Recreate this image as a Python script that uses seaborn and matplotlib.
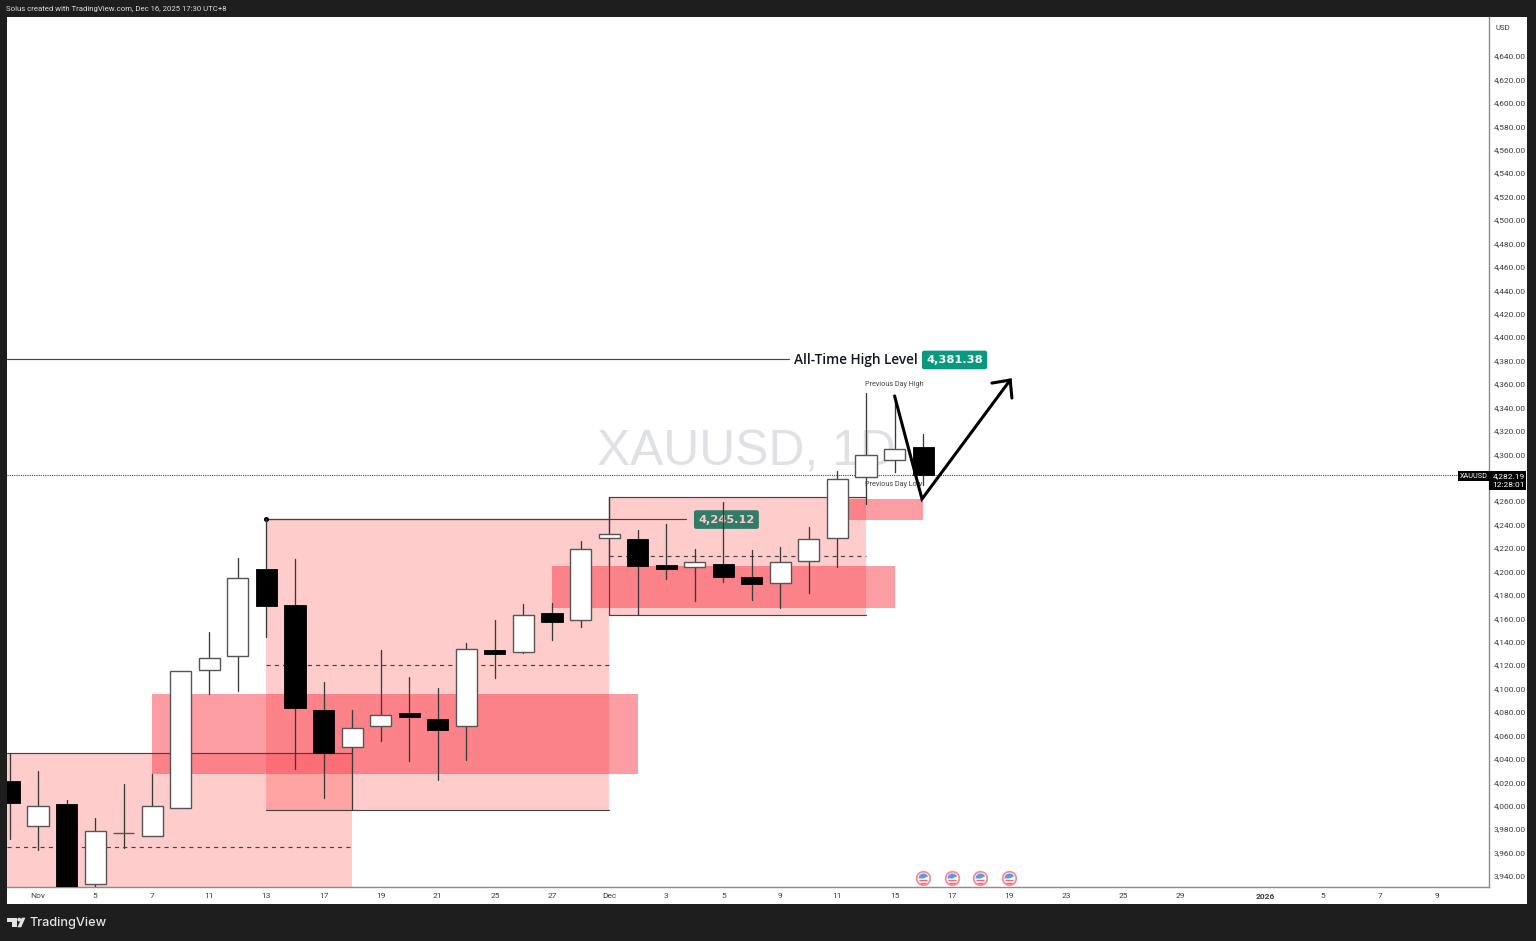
import numpy as np
import pandas as pd
import matplotlib.pyplot as plt
from matplotlib.patches import Rectangle, Polygon, Circle
from matplotlib.path import Path
import seaborn as sns

# daily candles, XAUUSD 1D
opens = [4021.1, 3982.7, 4001.5, 3933.2, 3976.3, 3974.1, 3998.0, 4115.8, 4127.8, 4202.1, 4171.3,
         4081.7, 4050.1, 4068.0, 4079.1, 4074.0, 4068.0, 4132.9, 4131.2, 4164.5, 4158.5, 4228.5,
         4227.7, 4205.5, 4203.8, 4206.3, 4195.2, 4190.1, 4208.9, 4228.5, 4280.6, 4295.1, 4306.2]
closes = [4002.3, 3999.7, 3926.3, 3978.4, 3976.6, 3999.7, 4115.0, 4126.1, 4194.4, 4170.5, 4083.4,
          4045.0, 4066.3, 4077.4, 4075.7, 4064.6, 4133.8, 4129.5, 4162.8, 4156.8, 4219.1, 4231.9,
          4204.6, 4202.1, 4208.0, 4195.2, 4189.3, 4208.0, 4227.7, 4278.9, 4299.4, 4304.5, 4282.19]
highs = [4045.0, 4029.6, 4004.9, 3989.5, 4018.5, 4027.1, 4115.0, 4148.3, 4211.5, 4244.8, 4210.6,
         4105.6, 4081.7, 4132.9, 4109.9, 4100.5, 4138.9, 4158.5, 4172.2, 4173.0, 4226.0, 4263.5,
         4235.4, 4240.5, 4219.1, 4259.3, 4218.3, 4220.8, 4237.9, 4285.7, 4352.3, 4349.8, 4317.3]
lows = [3971.6, 3962.2, 3923.8, 3929.0, 3963.9, 3974.1, 3998.0, 4095.4, 4097.9, 4144.0, 4031.3,
        4006.6, 3997.2, 4055.2, 4038.2, 4021.9, 4039.0, 4109.0, 4130.4, 4141.5, 4152.6, 4204.6,
        4162.8, 4193.5, 4174.8, 4191.0, 4175.6, 4168.8, 4181.6, 4203.8, 4257.6, 4284.9, 4273.8]

# premium zones: start, end, top, bottom, midline
light_start = [-0.09, 9, 21]
light_end = [12, 21, 30]
light_top = [4045.0, 4244.8, 4263.5]
light_bottom = [3925.0, 3996.3, 4162.8]
light_mid = [3964.8, 4120.1, 4213.2]

# order blocks
dark_start = [5, 19, 29.37]
dark_end = [22, 31, 32]
dark_top = [4095.4, 4204.6, 4261.8]
dark_bottom = [4027.1, 4168.8, 4243.9]

# projected path
path_x = [31, 31.96, 35.05]
path_y = [4349.8, 4261.8, 4363.4]
head_x = [34.41, 35.05, 35.11]
head_y = [4360.8, 4363.4, 4348.0]

ath_level = 4381.38
last_price = 4282.19
swing_level = 4245.12
event_days = [32, 33, 34, 35]

price_ticks = np.arange(3940, 4641, 20)
day_ticks = [1, 3, 5, 7, 9, 11, 13, 15, 17, 19, 21, 23, 25, 27, 29, 31, 33, 35, 37, 39, 41, 44, 46, 48, 50]
day_labels = ['Nov', '5', '7', '11', '13', '17', '19', '21', '25', '27', 'Dec', '3', '5', '9', '11', '15',
              '17', '19', '23', '25', '29', '2026', '5', '7', '9']

W, H = 1536, 941
DARK = '#1e1e1e'
LINE = '#444444'
TXT = '#3d3d3d'

sns.set_style('white')
plt.rcParams['font.family'] = ['Roboto', 'DejaVu Sans']

fig = plt.figure(figsize=(W / 100, H / 100), dpi=100, facecolor=DARK)


def px_axes(zorder):
    a = fig.add_axes([0, 0, 1, 1], zorder=zorder)
    a.set_xlim(0, W)
    a.set_ylim(H, 0)
    a.axis('off')
    a.patch.set_alpha(0)
    return a


back = px_axes(0)
back.add_patch(Rectangle((7, 17), 1520, 887, fc='white', ec='none'))

ax = fig.add_axes([7 / W, 1 - 887 / H, 1482 / W, 870 / H], zorder=1)
ax.patch.set_alpha(0)
ax.set_xlim(-0.0876, 51.82)
ax.set_ylim(3930.6, 4673.3)

ax.text((746.5 - 7) / 1482, (887 - 452.5) / 870, 'XAUUSD, 1D', transform=ax.transAxes, ha='center', va='center',
        fontsize=35.8, color='#dfe1e5', family='Liberation Sans', zorder=0)

# zones
for s, e, t, b, m in zip(light_start, light_end, light_top, light_bottom, light_mid):
    ax.add_patch(Rectangle((s, b), e - s, t - b, fc='#ff0000', alpha=0.2, ec='none', zorder=1))
    ax.plot([s, e], [m, m], color=LINE, lw=0.85, ls=(0, (3.5, 3.5)), zorder=2)
    ax.plot([s, e], [t, t], color=LINE, lw=0.85, zorder=2)
    if b > 3930.6:
        ax.plot([s, e], [b, b], color=LINE, lw=0.85, zorder=2)
ax.plot([light_start[2], light_start[2]], [light_bottom[2], light_top[2]], color=LINE, lw=0.85, zorder=2)
for s, e, t, b in zip(dark_start, dark_end, dark_top, dark_bottom):
    ax.add_patch(Rectangle((s, b), e - s, t - b, fc='#fb3a48', alpha=0.5, ec='none', zorder=1.5))

# levels
ax.plot([light_start[0], 27.3], [ath_level, ath_level], color=LINE, lw=0.85, zorder=2)
ax.plot([9, 23.7], [swing_level, swing_level], color=LINE, lw=0.85, zorder=2)
ax.plot([9], [swing_level], 'o', ms=2.6, color='black', zorder=2)
ax.plot([-0.09, 50.75], [last_price, last_price], color='#444444', lw=0.8, ls=(0, (1, 1)), zorder=2.2)

# badges
ax.text(25.11, swing_level, f'{swing_level:,.2f}', ha='center', va='center_baseline', fontsize=8.2, fontweight='bold',
        color='#f8cccc', family='DejaVu Sans', zorder=2.5,
        bbox=dict(boxstyle='round,pad=0.38,rounding_size=0.2', fc='#317c68', ec='none'))
ax.text(33.1, ath_level, f'{ath_level:,.2f}', ha='center', va='center_baseline', fontsize=8.2, fontweight='bold',
        color='white', family='DejaVu Sans', zorder=2.5,
        bbox=dict(boxstyle='round,pad=0.38,rounding_size=0.2', fc='#089981', ec='none'))
ax.text(27.48, ath_level, 'All-Time High Level', ha='left', va='center_baseline', fontsize=9.85, color='#131722',
        fontweight='semibold', family='Open Sans', zorder=2.5)
ax.text(29.97, 4360, 'Previous Day High', ha='left', va='center', fontsize=5.2, color='#444444', zorder=5)
ax.text(29.97, 4274, 'Previous Day Low', ha='left', va='center', fontsize=5.2, color='#444444', zorder=5)

# wicks through seaborn, bodies as bars on the same axes
days = np.arange(len(opens))
wicks = pd.DataFrame({
    'day': np.repeat(days, 2),
    'price': np.column_stack([lows, highs]).ravel(),
})
sns.lineplot(data=wicks, x='day', y='price', units='day', estimator=None, color='#3a3a3a', lw=0.95,
             legend=False, zorder=3, ax=ax)

o = np.array(opens)
c = np.array(closes)
up = c >= o
ax.bar(days[up], np.abs(c - o)[up], bottom=np.minimum(o, c)[up], width=0.74, color='white', edgecolor='#555555',
       linewidth=1.0, zorder=4)
ax.bar(days[~up], np.abs(c - o)[~up], bottom=np.minimum(o, c)[~up], width=0.74, color='black', edgecolor='black',
       linewidth=0.6, zorder=4)

# projected move
ax.plot(path_x, path_y, color='black', lw=2.2, solid_joinstyle='miter', zorder=6)
ax.plot(head_x, head_y, color='black', lw=2.2, solid_joinstyle='miter', zorder=6)

# economic events
ev_y = 3938.3
events = pd.DataFrame({'day': event_days, 'y': [ev_y] * len(event_days)})
sns.scatterplot(data=events, x='day', y='y', s=95, color='white', edgecolor='#f98a92', linewidth=1.3,
                legend=False, zorder=7, clip_on=False, ax=ax)
ax.scatter(event_days, [ev_y + 0.4] * 4, s=55, marker=Path.wedge(25, 180), color='#5a9be6', linewidths=0,
           zorder=8, clip_on=False)
ax.scatter(event_days, [ev_y - 2.0] * 4, s=36, marker='_', color='#f7626e', linewidths=1.0, zorder=8, clip_on=False)
ax.scatter(event_days, [ev_y - 4.4] * 4, s=18, marker='_', color='#f7626e', linewidths=1.0, zorder=8, clip_on=False)

# axes dressing
ax.set_xlabel('')
ax.set_ylabel('')
ax.yaxis.tick_right()
ax.set_yticks(price_ticks)
ax.set_yticklabels([f'{v:,.2f}' for v in price_ticks], fontsize=6.0, color=TXT)
ax.set_xticks(day_ticks)
ax.set_xticklabels(day_labels, fontsize=6.0, color=TXT)
ax.get_xticklabels()[day_labels.index('2026')].set_fontweight('bold')
ax.tick_params(axis='both', length=0)
ax.tick_params(axis='y', pad=3.6)
ax.tick_params(axis='x', pad=4)
for side in ['top', 'left']:
    ax.spines[side].set_visible(False)
for side in ['bottom', 'right']:
    ax.spines[side].set_color('#8a8a8a')
    ax.spines[side].set_linewidth(1.0)

# chrome drawn in pixels
top = px_axes(3)
top.text(6, 8.5, 'Solus created with TradingView.com, Dec 16, 2025 17:30 UTC+8', fontsize=5.6, color='#dddddd',
         va='center', ha='left')
top.text(1503, 27.5, 'USD', fontsize=5.6, color=TXT, va='center', ha='center')
top.add_patch(Rectangle((1458, 471), 31, 10, fc='black', ec='none'))
top.add_patch(Rectangle((1489, 471), 37, 19, fc='black', ec='none'))
top.text(1473.5, 476, 'XAUUSD', fontsize=5.2, color='white', va='center', ha='center')
top.text(1508.5, 476, f'{last_price:,.2f}', fontsize=6.0, color='white', va='center', ha='center')
top.text(1508.5, 484.5, '12:28:01', fontsize=6.0, color='white', va='center', ha='center')

# TradingView logo
LOGO = '#e4e4e4'
top.add_patch(Polygon([(7.3, 917.7), (16.8, 917.7), (16.8, 927.3), (12, 927.3), (12, 921.5), (7.3, 921.5)],
                      fc=LOGO, ec='none'))
top.add_patch(Circle((19.2, 919.6), 1.9, fc=LOGO, ec='none'))
top.add_patch(Polygon([(21.8, 917.7), (25.4, 917.7), (21.2, 927.3), (17.4, 927.3)], fc=LOGO, ec='none'))
top.text(30, 922.8, 'TradingView', fontsize=9.2, color=LOGO, va='center', ha='left', family='Inter',
         fontweight='medium')

fig.savefig('out.png', dpi=100, facecolor=DARK)
